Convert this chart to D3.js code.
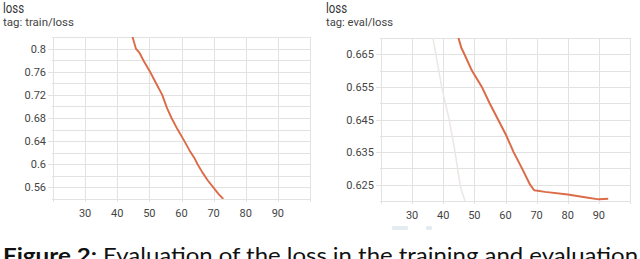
<!DOCTYPE html>
<html>
<head>
<meta charset="utf-8">
<script src="https://cdn.jsdelivr.net/npm/d3@7"></script>
<style>
  body { margin: 0; background: #fff; }
  svg { display: block; }
</style>
</head>
<body>
<script>
// train/loss (step, value)
var trainSteps  = [44.5, 45.8, 47, 48.2, 50.2, 52, 54, 55.5, 56.9, 58.8, 60.9, 62.5, 64, 65, 66.5, 68.2, 69.9, 71.5, 73];
var trainValues = [0.825, 0.8, 0.792, 0.779, 0.76, 0.741, 0.72, 0.697, 0.68, 0.66, 0.64, 0.624, 0.611, 0.6, 0.586, 0.572, 0.56, 0.549, 0.54];

// eval/loss smoothed
var evalSteps  = [44.6, 45.8, 46.8, 49.2, 52.4, 54.9, 57.6, 60.3, 62.6, 65.3, 67.9, 69.2, 72.7, 80, 86, 90, 93];
var evalValues = [0.671, 0.667, 0.665, 0.66, 0.655, 0.65, 0.645, 0.64, 0.635, 0.63, 0.625, 0.6233, 0.6228, 0.622, 0.6211, 0.6205, 0.6207];

// eval/loss raw (faded)
var rawSteps  = [36.6, 39.5, 41.9, 43.8, 45.4, 46.2, 47];
var rawValues = [0.6705, 0.655, 0.645, 0.635, 0.625, 0.6222, 0.62];

var xTicks = [30, 40, 50, 60, 70, 80, 90];
var trainTicks = [0.56, 0.6, 0.64, 0.68, 0.72, 0.76, 0.8];
var trainGrid  = d3.range(0.54, 0.8201, 0.02);
var evalTicks  = [0.625, 0.635, 0.645, 0.655, 0.665];
var evalGrid   = d3.range(0.62, 0.6701, 0.005);

var W = 640, H = 259;
var svg = d3.select("body").append("svg").attr("width", W).attr("height", H);

var gridColor = "#e2e2e2";
var lineColor = "#dc6c48";

function panel(opt) {
  var g = svg.append("g");
  var x = d3.scaleLinear().domain([20, 100]).range([opt.x0, opt.x1]);
  var y = d3.scaleLinear().domain(opt.yDomain).range([opt.y1, opt.y0]);

  // title + tag
  g.append("text").attr("x", opt.tx).attr("y", 13)
    .attr("font-family", "Roboto").attr("font-size", 15).attr("fill", "#333")
    .attr("textLength", 21).attr("lengthAdjust", "spacingAndGlyphs")
    .text("loss");
  g.append("text").attr("x", opt.tx).attr("y", 25.5)
    .attr("font-family", "Roboto").attr("font-size", 10.5).attr("fill", "#444")
    .attr("textLength", opt.tagLen).attr("lengthAdjust", "spacingAndGlyphs")
    .text(opt.tag);

  // horizontal grid
  g.selectAll(".hg").data(opt.grid).enter().append("line")
    .attr("x1", function(d) {
      var lab = opt.ticks.some(function(t) { return Math.abs(t - d) < 1e-6; });
      return lab ? opt.x0 - 5 : opt.x0 - 1;
    })
    .attr("x2", opt.x1)
    .attr("y1", function(d) { return Math.round(y(d)) + 0.5; })
    .attr("y2", function(d) { return Math.round(y(d)) + 0.5; })
    .attr("stroke", gridColor).attr("stroke-width", 1);

  // vertical grid
  g.selectAll(".vg").data(d3.range(20, 101, 10)).enter().append("line")
    .attr("x1", function(d) { return Math.round(x(d)) + 0.5; })
    .attr("x2", function(d) { return Math.round(x(d)) + 0.5; })
    .attr("y1", opt.y0).attr("y2", opt.y1 + 3)
    .attr("stroke", gridColor).attr("stroke-width", 1);

  // y labels
  g.selectAll(".yl").data(opt.ticks).enter().append("text")
    .attr("x", opt.x0 - 7).attr("y", function(d) { return y(d) + 4; })
    .attr("text-anchor", "end")
    .attr("font-family", "Roboto").attr("font-size", 11).attr("fill", "#444")
    .text(function(d) { return opt.fmt(d); });

  // x labels
  g.selectAll(".xl").data(xTicks).enter().append("text")
    .attr("x", function(d) { return x(d); }).attr("y", opt.y1 + 18)
    .attr("text-anchor", "middle")
    .attr("font-family", "Roboto").attr("font-size", 11).attr("fill", "#444")
    .text(function(d) { return d; });

  var clipId = "clip" + opt.tx;
  svg.append("clipPath").attr("id", clipId).append("rect")
    .attr("x", opt.x0).attr("y", opt.y0).attr("width", opt.x1 - opt.x0).attr("height", opt.y1 - opt.y0);

  var line = d3.line()
    .x(function(d) { return x(d[0]); })
    .y(function(d) { return y(d[1]); })
    .curve(d3.curveLinear);

  opt.series.forEach(function(s) {
    g.append("path")
      .datum(d3.zip(s.steps, s.values))
      .attr("clip-path", "url(#" + clipId + ")")
      .attr("fill", "none")
      .attr("stroke", s.color)
      .attr("stroke-width", s.width)
      .attr("stroke-linejoin", "round")
      .attr("d", line);
  });
  return g;
}

panel({
  tx: 3, tag: "tag: train/loss", tagLen: 71,
  x0: 53, x1: 310, y0: 37, y1: 199,
  yDomain: [0.54, 0.82], ticks: trainTicks, grid: trainGrid,
  fmt: function(d) { return String(+d.toFixed(2)); },
  series: [{ steps: trainSteps, values: trainValues, color: lineColor, width: 1.9 }]
});

panel({
  tx: 326, tag: "tag: eval/loss", tagLen: 67,
  x0: 381, x1: 630, y0: 38, y1: 201,
  yDomain: [0.62, 0.67], ticks: evalTicks, grid: evalGrid,
  fmt: function(d) { return d.toFixed(3); },
  series: [
    { steps: rawSteps, values: rawValues, color: "#ece7e3", width: 1.5 },
    { steps: evalSteps, values: evalValues, color: lineColor, width: 2 }
  ]
});

// cut-off legend icons under right panel
svg.append("rect").attr("x", 392).attr("y", 226).attr("width", 16).attr("height", 4).attr("rx", 1).attr("fill", "#e4ecf0");
svg.append("rect").attr("x", 426).attr("y", 226).attr("width", 6).attr("height", 4).attr("rx", 1).attr("fill", "#e4ecf0");

// caption (runs off the bottom and right edge like the reference crop)
svg.append("text").attr("x", 3).attr("y", 263)
  .attr("font-family", "Lato").attr("font-size", 21).attr("font-weight", "bold").attr("fill", "#111")
  .attr("textLength", 94).attr("lengthAdjust", "spacingAndGlyphs")
  .text("Figure 2:");
svg.append("text").attr("x", 103).attr("y", 263)
  .attr("font-family", "Lato").attr("font-size", 21).attr("fill", "#111")
  .attr("textLength", 535).attr("lengthAdjust", "spacingAndGlyphs")
  .text("Evaluation of the loss in the training and evaluation");
</script>
</body>
</html>
